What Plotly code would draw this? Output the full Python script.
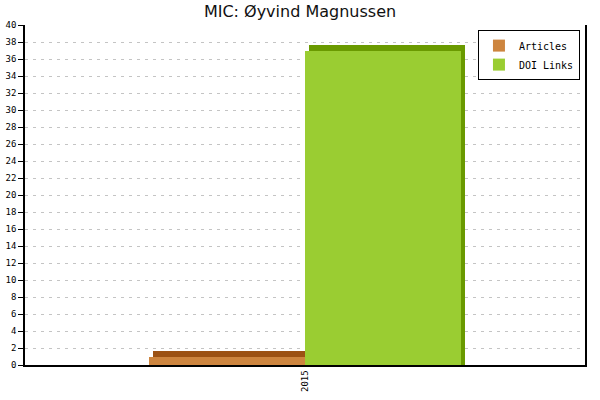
import plotly.graph_objects as go

years = ["2015"]
articles = [1]
doi_links = [37]
series_names = ["Articles", "DOI Links"]
front_colors = ["#CD853F", "#9ACD32"]
side_colors = ["#9C5214", "#6A9A00"]
y_ticks = list(range(0, 41, 2))

bar_w = 0.557
depth_x = 0.014
depth_y = 0.7
offsets = [-bar_w, 0.0]
values = [articles, doi_links]

fig = go.Figure()
# depth (3D side) bars behind
for vals, off, col in zip(values, offsets, side_colors):
    fig.add_trace(go.Bar(
        x=years, y=[v + depth_y for v in vals], width=bar_w, offset=off + depth_x,
        marker=dict(color=col, line=dict(width=0)), showlegend=False, hoverinfo="skip"))
# front bars
for name, vals, off, col in zip(series_names, values, offsets, front_colors):
    fig.add_trace(go.Bar(
        x=years, y=vals, width=bar_w, offset=off, name=name,
        marker=dict(color=col, line=dict(width=0))))

fig.update_layout(
    width=600, height=400,
    margin=dict(l=25, r=15, t=25, b=35, autoexpand=False),
    paper_bgcolor="white", plot_bgcolor="white",
    barmode="overlay", bargap=0,
    title=dict(text="MIC: Øyvind Magnussen", x=0.5, xanchor="center", y=0.972, yanchor="middle",
               font=dict(family="DejaVu Sans", size=16, color="#111")),
    xaxis=dict(type="category", range=[-1, 1], showgrid=False, showline=True, linecolor="black",
               linewidth=1.5, ticks="", tickangle=-90, automargin=False,
               tickfont=dict(family="DejaVu Sans Mono", size=9, color="black")),
    yaxis=dict(range=[0, 40], tickvals=y_ticks, showgrid=True, gridcolor="#c4c4c4",
               griddash="3px,5px", gridwidth=1, showline=True, linecolor="black", linewidth=1.5,
               mirror=True, ticks="outside", ticklen=5, tickcolor="black", automargin=False,
               tickfont=dict(family="DejaVu Sans Mono", size=9, color="black"), zeroline=False),
    legend=dict(x=0.991, y=0.985, xanchor="right", yanchor="top", bordercolor="black",
                borderwidth=1, bgcolor="white", traceorder="normal", itemwidth=30,
                font=dict(family="DejaVu Sans Mono", size=10, color="black")),
)

fig.write_html("out.html", config={"displayModeBar": False},
               post_script="document.body.style.margin='0';")
